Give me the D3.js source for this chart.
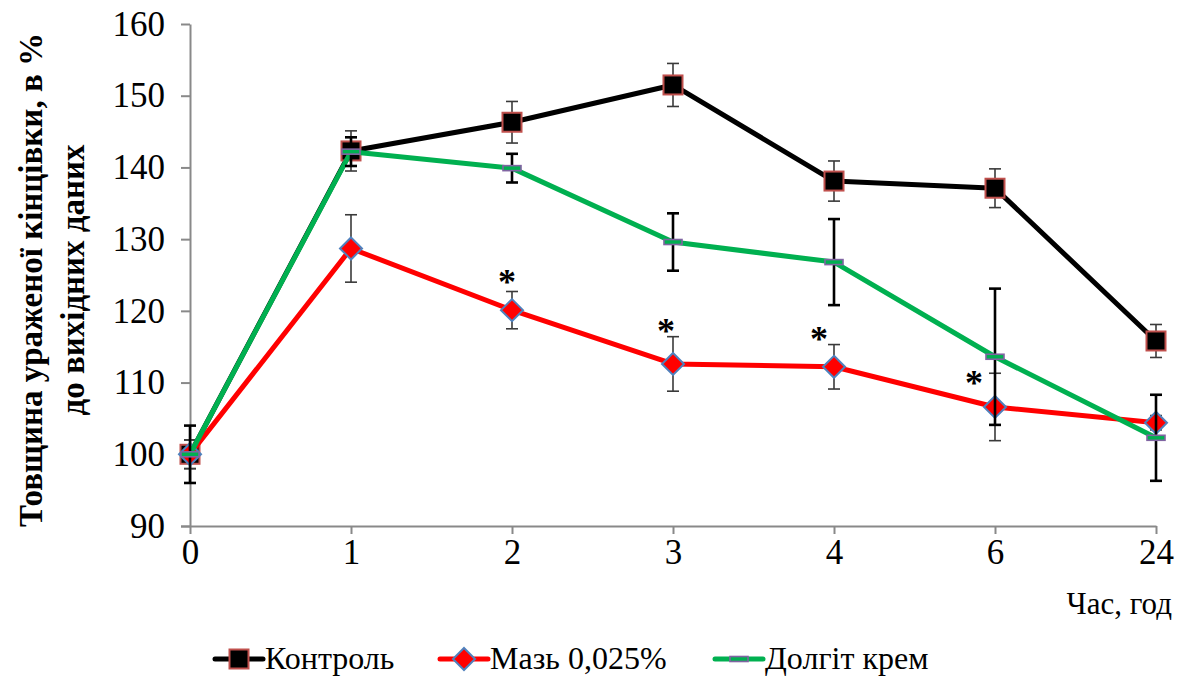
<!DOCTYPE html>
<html><head><meta charset="utf-8">
<script src="https://cdn.jsdelivr.net/npm/d3@7/dist/d3.min.js"></script>
<style>body{margin:0;background:#fff}svg{display:block}</style>
</head><body><svg id="c" width="1180" height="677"></svg>
<script>
const categories = ["0","1","2","3","4","6","24"];
const controlVals = [100, 142.3, 146.3, 151.5, 138.1, 137.1, 115.8];
const controlErr  = [2, 2.8, 2.9, 3.0, 2.8, 2.7, 2.3];
const ointVals = [100, 128.7, 120.1, 112.6, 112.2, 106.6, 104.4];
const ointErr  = [2, 4.7, 2.6, 3.8, 3.1, 4.7, 1];
const dolgitVals = [100, 142.2, 139.9, 129.6, 126.8, 113.6, 102.3];
const dolgitErr  = [4, 2, 2, 4, 6, 9.5, 6];
const yTicks = [90,100,110,120,130,140,150,160];
const sigCats = ["2","3","4","6"];
const seriesNames = ["Контроль","Мазь 0,025%","Долгіт крем"];
const yTitle = ["Товщина ураженої кінцівки, в %","до вихідних даних"];
const xTitle = "Час, год";

const FONT = "Liberation Serif";
const svg = d3.select("#c");
const x = d3.scalePoint().domain(categories).range([190,1156]);
const y = d3.scaleLinear().domain([90,160]).range([526,24]);
const axisColor = "#898989";

// axes
const gy = svg.append("g").attr("transform","translate(190,0)")
  .call(d3.axisLeft(y).tickValues(yTicks).tickSize(9).tickPadding(16).tickSizeOuter(0));
const gx = svg.append("g").attr("transform","translate(0,526)")
  .call(d3.axisBottom(x).tickSize(8).tickPadding(5).tickSizeOuter(0));
[gx,gy].forEach(g=>{
  g.attr("font-family",FONT).attr("font-size",35);
  g.select(".domain").attr("stroke",axisColor).attr("stroke-width",2);
  g.selectAll(".tick line").attr("stroke",axisColor).attr("stroke-width",2);
  g.selectAll("text").attr("fill","#000").attr("font-family",FONT).attr("font-size",35);
});
gx.select(".domain").attr("d","M181,0.5H1156.5");

// titles
svg.append("text").attr("x",1172).attr("y",614).attr("text-anchor","end")
  .attr("font-family",FONT).attr("font-size",31).text(xTitle);
const yt = svg.append("text").attr("transform","translate(0,280) rotate(-90)")
  .attr("text-anchor","middle").attr("font-family",FONT).attr("font-size",33).attr("font-weight","bold");
yt.append("tspan").attr("x",0).attr("y",42).text(yTitle[0]);
yt.append("tspan").attr("x",0).attr("y",84).text(yTitle[1]);

const series = [
  {vals:controlVals, err:controlErr, color:"#000000", errColor:"#3a3a3a", errW:1.6, marker:"square"},
  {vals:ointVals, err:ointErr, color:"#ff0000", errColor:"#3a3a3a", errW:1.6, marker:"diamond"},
  {vals:dolgitVals, err:dolgitErr, color:"#00b050", errColor:"#000000", errW:2.6, marker:"dash"}
];

function drawMarker(g, type, cx, cy){
  if(type==="square"){
    g.append("rect").attr("x",cx-9.5).attr("y",cy-9.5).attr("width",19).attr("height",19)
      .attr("fill","#000").attr("stroke","#c0504d").attr("stroke-width",2);
  } else if(type==="diamond"){
    g.append("path").attr("d",`M${cx},${cy-11}L${cx+11},${cy}L${cx},${cy+11}L${cx-11},${cy}Z`)
      .attr("fill","#ff0000").attr("stroke","#4f81bd").attr("stroke-width",2);
  } else {
    g.append("rect").attr("x",cx-9).attr("y",cy-2.5).attr("width",18).attr("height",5)
      .attr("fill","#00b050").attr("stroke","#8064a2").attr("stroke-width",1.6);
  }
}

const line = d3.line().x((d,i)=>x(categories[i])).y(d=>y(d));
series.forEach(s=>{
  const g = svg.append("g");
  g.append("path").attr("d",line(s.vals)).attr("fill","none").attr("stroke",s.color)
    .attr("stroke-width",5).attr("stroke-linejoin","round");
  s.vals.forEach((v,i)=>{
    const cx = x(categories[i]);
    const y1 = y(v+s.err[i]), y2 = y(v-s.err[i]);
    g.append("line").attr("x1",cx).attr("x2",cx).attr("y1",y1).attr("y2",y2)
      .attr("stroke",s.errColor).attr("stroke-width",s.errW);
    [y1,y2].forEach(yy=>g.append("line").attr("x1",cx-6).attr("x2",cx+6).attr("y1",yy).attr("y2",yy)
      .attr("stroke",s.errColor).attr("stroke-width",s.errW));
  });
  s.vals.forEach((v,i)=>drawMarker(g,s.marker,x(categories[i]),y(v)));
});

// significance asterisks (offsets relative to the Мазь point)
const sigOffsets = [[-5,-33],[-7,-38],[-15,-33],[-21,-29]];
sigCats.forEach((c,k)=>{
  const i = categories.indexOf(c);
  svg.append("text").attr("x",x(c)+sigOffsets[k][0]).attr("y",y(ointVals[i])+sigOffsets[k][1]+17)
    .attr("text-anchor","middle").attr("font-family",FONT).attr("font-size",36)
    .attr("font-weight","bold").text("*");
});

// legend
const legX = [215,440,715];
series.forEach((s,k)=>{
  const g = svg.append("g");
  const lx = legX[k], ly = 659;
  g.append("line").attr("x1",lx).attr("x2",lx+48).attr("y1",ly).attr("y2",ly)
    .attr("stroke",s.color).attr("stroke-width",5).attr("stroke-linecap","round");
  drawMarker(g,s.marker,lx+24,ly);
  g.append("text").attr("x",lx+50).attr("y",ly+10)
    .attr("font-family",FONT).attr("font-size",32).text(seriesNames[k]);
});
</script></body></html>
